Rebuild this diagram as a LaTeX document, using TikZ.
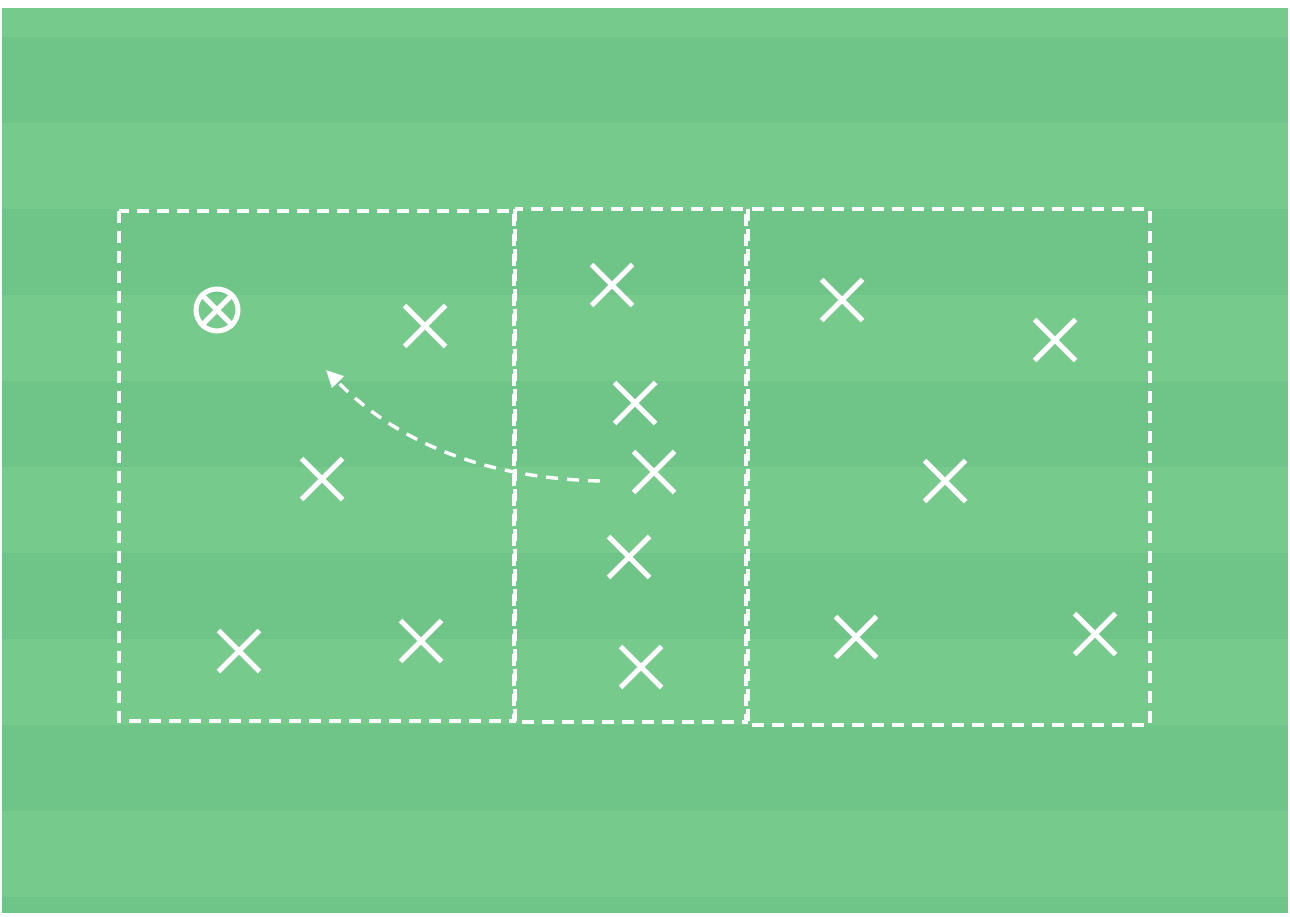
\documentclass[tikz,border=0pt]{standalone}
\usetikzlibrary{shapes.misc,arrows.meta}
\definecolor{lightturf}{HTML}{75CA8C}
\definecolor{darkturf}{HTML}{6FC487}
\tikzset{
  zone/.style={draw=white, line width=3.4pt, dash pattern=on 12pt off 8pt},
  player/.style={cross out, draw=white, line width=5pt, minimum size=36pt, inner sep=0pt},
  keeper/.style={circle, draw=white, line width=5pt, minimum size=42pt, inner sep=0pt},
  run/.style={draw=white, line width=3.4pt, dash pattern=on 12pt off 9pt, -{Triangle[length=17pt,width=16pt,fill=white]}}
}
\begin{document}
\begin{tikzpicture}[x=1pt,y=-1pt]
\useasboundingbox (0,0) rectangle (1290,917);
\fill[white] (0,0) rectangle (1290,917);
% stripes
\fill[lightturf] (2,8) rectangle (1288,913);
\foreach \y in {37,209,381,553,725,897} {
  \fill[darkturf] (2,\y) rectangle (1288,{min(\y+86,913)});
}
% zones
\draw[zone] (119,211) rectangle (514,721);
\draw[zone] (515,209) rectangle (746,722);
\draw[zone] (748,209) rectangle (1150,725);
% keeper
\node[keeper] (gk) at (217,310) {};
\draw[white, line width=5pt] (gk.45) -- (gk.225) (gk.135) -- (gk.-45);
% players
\node[player] (p1) at (425,326) {};
\node[player] (p2) at (322,479) {};
\node[player] (p3) at (239,651) {};
\node[player] (p4) at (421,641) {};
\node[player] (p5) at (612,285) {};
\node[player] (p6) at (635,403) {};
\node[player] (p7) at (654,472) {};
\node[player] (p8) at (629,557) {};
\node[player] (p9) at (641,667) {};
\node[player] (p10) at (842,300) {};
\node[player] (p11) at (1055,340) {};
\node[player] (p12) at (945,481) {};
\node[player] (p13) at (856,637) {};
\node[player] (p14) at (1095,634) {};
% run
\coordinate (rs) at (600,481);
\coordinate (re) at (326,370);
\draw[run] (rs) .. controls (480,478) and (395,440) .. (re);
\end{tikzpicture}
\end{document}
